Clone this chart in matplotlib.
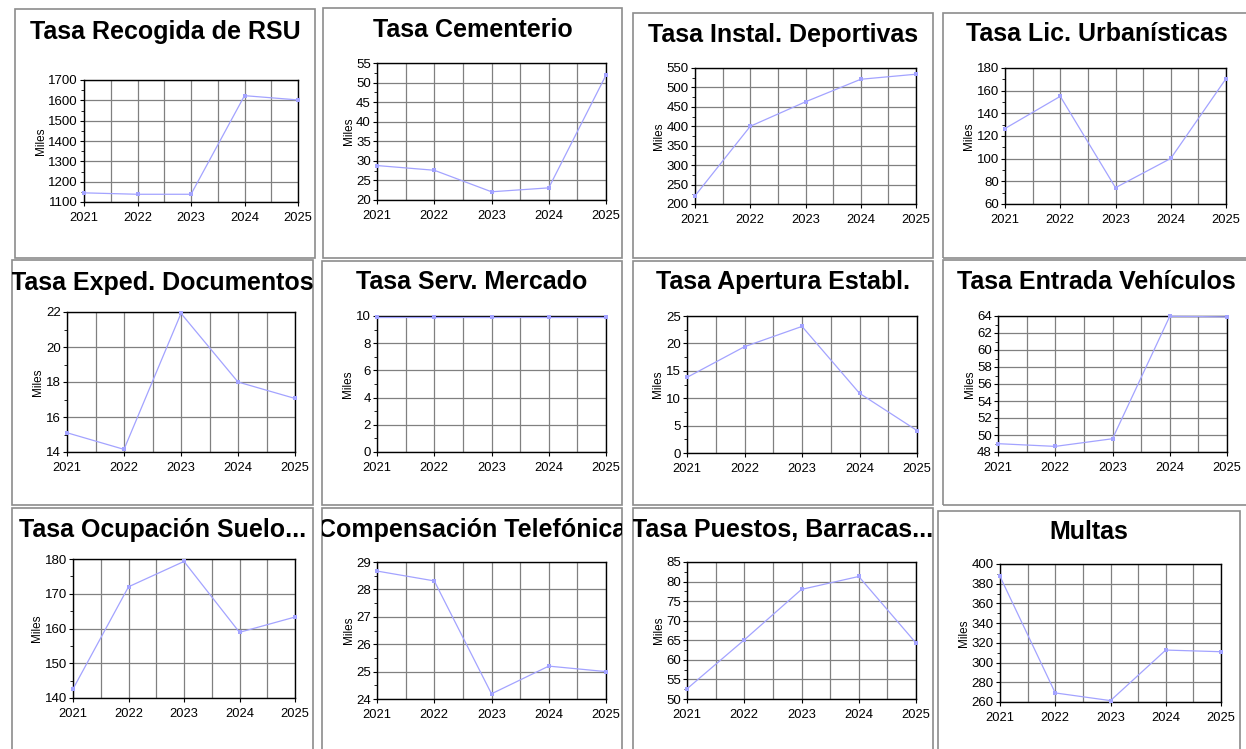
import matplotlib.pyplot as plt
from matplotlib.patches import Rectangle
from matplotlib.ticker import MultipleLocator
import numpy as np

plt.rcParams['font.family'] = ['Liberation Sans', 'DejaVu Sans']

years = [2021, 2022, 2023, 2024, 2025]

titles = ["Tasa Recogida de RSU", "Tasa Cementerio", "Tasa Instal. Deportivas", "Tasa Lic. Urbanísticas",
          "Tasa Exped. Documentos", "Tasa Serv. Mercado", "Tasa Apertura Establ.", "Tasa Entrada Vehículos",
          "Tasa Ocupación Suelo...", "Compensación Telefónica", "Tasa Puestos, Barracas...", "Multas"]

rsu = [1145, 1138, 1138, 1623, 1602]
cementerio = [28.8, 27.6, 22.1, 23.1, 51.9]
deportivas = [221, 400, 463, 521, 534]
urbanisticas = [126.6, 155, 74.4, 100.2, 170.6]
documentos = [15.1, 14.15, 21.92, 18.0, 17.06]
mercado = [9.95, 9.95, 9.95, 9.95, 9.95]
apertura = [13.8, 19.4, 23.1, 10.9, 4.1]
vehiculos = [48.98, 48.66, 49.56, 63.96, 63.9]
suelo = [142.6, 172.0, 179.3, 158.9, 163.3]
telefonica = [28.67, 28.31, 24.19, 25.2, 25.0]
puestos = [52.6, 65.1, 78.0, 81.3, 64.3]
multas = [387.4, 269.2, 261.4, 312.7, 311.0]

series = [rsu, cementerio, deportivas, urbanisticas, documentos, mercado,
          apertura, vehiculos, suelo, telefonica, puestos, multas]

ylims = [(1100, 1700), (20, 55), (200, 550), (60, 180), (14, 22), (0, 10),
         (0, 25), (48, 64), (140, 180), (24, 29), (50, 85), (260, 400)]
ysteps = [100, 5, 50, 20, 2, 2, 5, 2, 10, 1, 5, 20]

W, H = 1246, 749
# panel boxes (left, top, right, bottom) in pixels
boxes = [(15, 9, 315, 258), (323, 8, 622, 258), (633, 13, 933, 258), (943, 13, 1250, 258),
         (12, 260, 313, 505), (322, 261, 622, 505), (633, 261, 933, 505), (943, 260, 1250, 505),
         (12, 508, 313, 752), (322, 508, 622, 752), (633, 508, 933, 752), (938, 511, 1240, 752)]
# plot areas (left, top, right, bottom) in pixels
areas = [(84, 80, 298, 202), (377, 63, 606, 200), (695, 68, 916, 204), (1005, 68, 1226, 204),
         (67, 312, 295, 452), (377, 316, 606, 452), (687, 316, 917, 453), (998, 316, 1227, 452),
         (73, 559, 295, 698), (377, 562, 606, 699), (687, 562, 916, 699), (1000, 564, 1221, 702)]
title_y = [32, 30, 35, 34, 283, 282, 282, 282, 530, 530, 530, 532]

fig = plt.figure(figsize=(W / 100, H / 100), dpi=100)
fig.patch.set_facecolor('white')

def fx(x):
    return x / W

def fy(y):
    return 1 - y / H

for i in range(12):
    bl, bt, br, bb = boxes[i]
    rect = Rectangle((fx(bl), fy(bb)), fx(br - bl), (bb - bt) / H, transform=fig.transFigure,
                     fill=False, edgecolor='#8c8c8c', linewidth=1.2)
    fig.add_artist(rect)
    clip = Rectangle((fx(bl), fy(bb)), fx(br - bl), (bb - bt) / H, transform=fig.transFigure,
                     fill=False, edgecolor='none')
    t = fig.text(fx((bl + br) / 2), fy(title_y[i]), titles[i], ha='center', va='center',
                 fontsize=18, fontweight='bold', color='black')
    t.set_clip_on(True)
    t.set_clip_path(clip)

    l, tp, r, b = areas[i]
    ax = fig.add_axes([fx(l), fy(b), fx(r - l), (b - tp) / H])
    ax.plot(years, series[i], color='#a3a3ff', linewidth=0.9, marker='s', markersize=3,
            markeredgewidth=0, clip_on=False, zorder=5)
    ax.set_xlim(2021, 2025)
    ax.set_ylim(*ylims[i])
    ax.set_xticks(years)
    ax.set_xticks(np.arange(2021.5, 2025, 1.0), minor=True)
    ax.yaxis.set_major_locator(MultipleLocator(ysteps[i]))
    ax.yaxis.set_minor_locator(MultipleLocator(ysteps[i] / 2))
    ax.grid(axis='x', which='both', color='#808080', linewidth=0.9)
    ax.grid(axis='y', which='major', color='#808080', linewidth=0.9)
    ax.set_axisbelow(True)
    ax.tick_params(axis='x', which='major', length=3, pad=4, labelsize=9.3, direction='out')
    ax.tick_params(axis='x', which='minor', length=0)
    ax.tick_params(axis='y', which='major', length=3, pad=1.5, labelsize=9.5, direction='out')
    ax.tick_params(axis='y', which='minor', length=2, direction='out')
    for s in ax.spines.values():
        s.set_color('black')
        s.set_linewidth(1.0)
    ax.set_ylabel("Miles", fontsize=8.5, labelpad=1)

fig.savefig("out.png", dpi=100)
